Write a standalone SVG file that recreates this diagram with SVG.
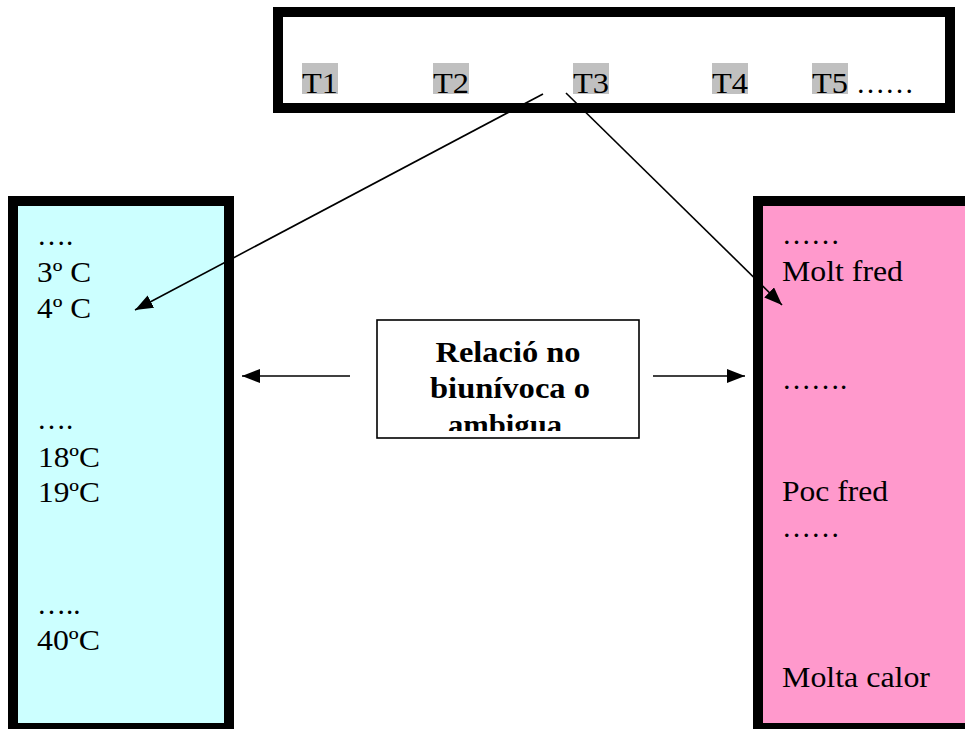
<svg xmlns="http://www.w3.org/2000/svg" width="965" height="729" viewBox="0 0 965 729">
<style>
.t{font-family:"Liberation Serif","Times New Roman",serif;font-size:29px;fill:#000}
.b{font-family:"Liberation Serif","Times New Roman",serif;font-size:30px;font-weight:bold;fill:#000;text-anchor:middle}
.box{stroke:#000;stroke-width:10}
.hl{fill:#C0C0C0}
.c{stroke:#000;stroke-width:1.6;fill:none}
</style>
<defs>
<marker id="ah" markerUnits="userSpaceOnUse" markerWidth="20" markerHeight="14" refX="18" refY="7" orient="auto">
<path d="M0,0 L18,7 L0,14 Z" fill="#000"/>
</marker>
<clipPath id="mclip"><rect x="378" y="321" width="260" height="110"/></clipPath>
</defs>
<rect width="965" height="729" fill="#fff"/>
<g id="top">
<rect class="box" x="278" y="12" width="672" height="96" fill="#fff"/>
<rect class="hl" x="302" y="63" width="36" height="31"/>
<rect class="hl" x="433" y="63" width="36" height="31"/>
<rect class="hl" x="573" y="63" width="36" height="31"/>
<rect class="hl" x="712" y="63" width="36" height="31"/>
<rect class="hl" x="812" y="63" width="36" height="31"/>
<text class="t" x="302" y="93" textLength="36" lengthAdjust="spacingAndGlyphs">T1</text>
<text class="t" x="433" y="93" textLength="36" lengthAdjust="spacingAndGlyphs">T2</text>
<text class="t" x="573" y="93" textLength="36" lengthAdjust="spacingAndGlyphs">T3</text>
<text class="t" x="712" y="93" textLength="36" lengthAdjust="spacingAndGlyphs">T4</text>
<text class="t" x="812" y="93" textLength="36" lengthAdjust="spacingAndGlyphs">T5</text>
<text class="t" x="856" y="93">……</text>
</g>
<g id="left">
<rect class="box" x="13" y="201" width="216" height="527" fill="#CCFFFF"/>
<text class="t" x="37" y="245">….</text>
<text class="t" x="37" y="282" textLength="54" lengthAdjust="spacingAndGlyphs">3º C</text>
<text class="t" x="37" y="318" textLength="54" lengthAdjust="spacingAndGlyphs">4º C</text>
<text class="t" x="37" y="429">….</text>
<text class="t" x="38" y="467" textLength="62" lengthAdjust="spacingAndGlyphs">18ºC</text>
<text class="t" x="38" y="502" textLength="62" lengthAdjust="spacingAndGlyphs">19ºC</text>
<text class="t" x="37" y="614">…..</text>
<text class="t" x="37" y="650" textLength="63" lengthAdjust="spacingAndGlyphs">40ºC</text>
</g>
<g id="right">
<rect class="box" x="758" y="201" width="220" height="527" fill="#FF99CC"/>
<text class="t" x="782" y="244">……</text>
<text class="t" x="782" y="281" textLength="121" lengthAdjust="spacingAndGlyphs">Molt fred</text>
<text class="t" x="782" y="389">…….</text>
<text class="t" x="782" y="501" textLength="106" lengthAdjust="spacingAndGlyphs">Poc fred</text>
<text class="t" x="782" y="537">……</text>
<text class="t" x="782" y="687" textLength="148" lengthAdjust="spacingAndGlyphs">Molta calor</text>
</g>
<g id="middle">
<rect x="377" y="320" width="262" height="118" fill="#fff" stroke="#000" stroke-width="1.6"/>
<g clip-path="url(#mclip)">
<text class="b" x="508" y="362" textLength="145" lengthAdjust="spacingAndGlyphs">Relació no</text>
<text class="b" x="510" y="398" textLength="160" lengthAdjust="spacingAndGlyphs">biunívoca o</text>
<text class="b" x="505" y="435" textLength="114" lengthAdjust="spacingAndGlyphs">ambigua</text>
</g>
</g>
<g id="connectors">
<line class="c" x1="543" y1="94" x2="135" y2="310" marker-end="url(#ah)"/>
<line class="c" x1="566" y1="93" x2="782" y2="305" marker-end="url(#ah)"/>
<line class="c" x1="350" y1="376" x2="242" y2="376" marker-end="url(#ah)"/>
<line class="c" x1="653" y1="376" x2="745" y2="376" marker-end="url(#ah)"/>
</g>
</svg>
